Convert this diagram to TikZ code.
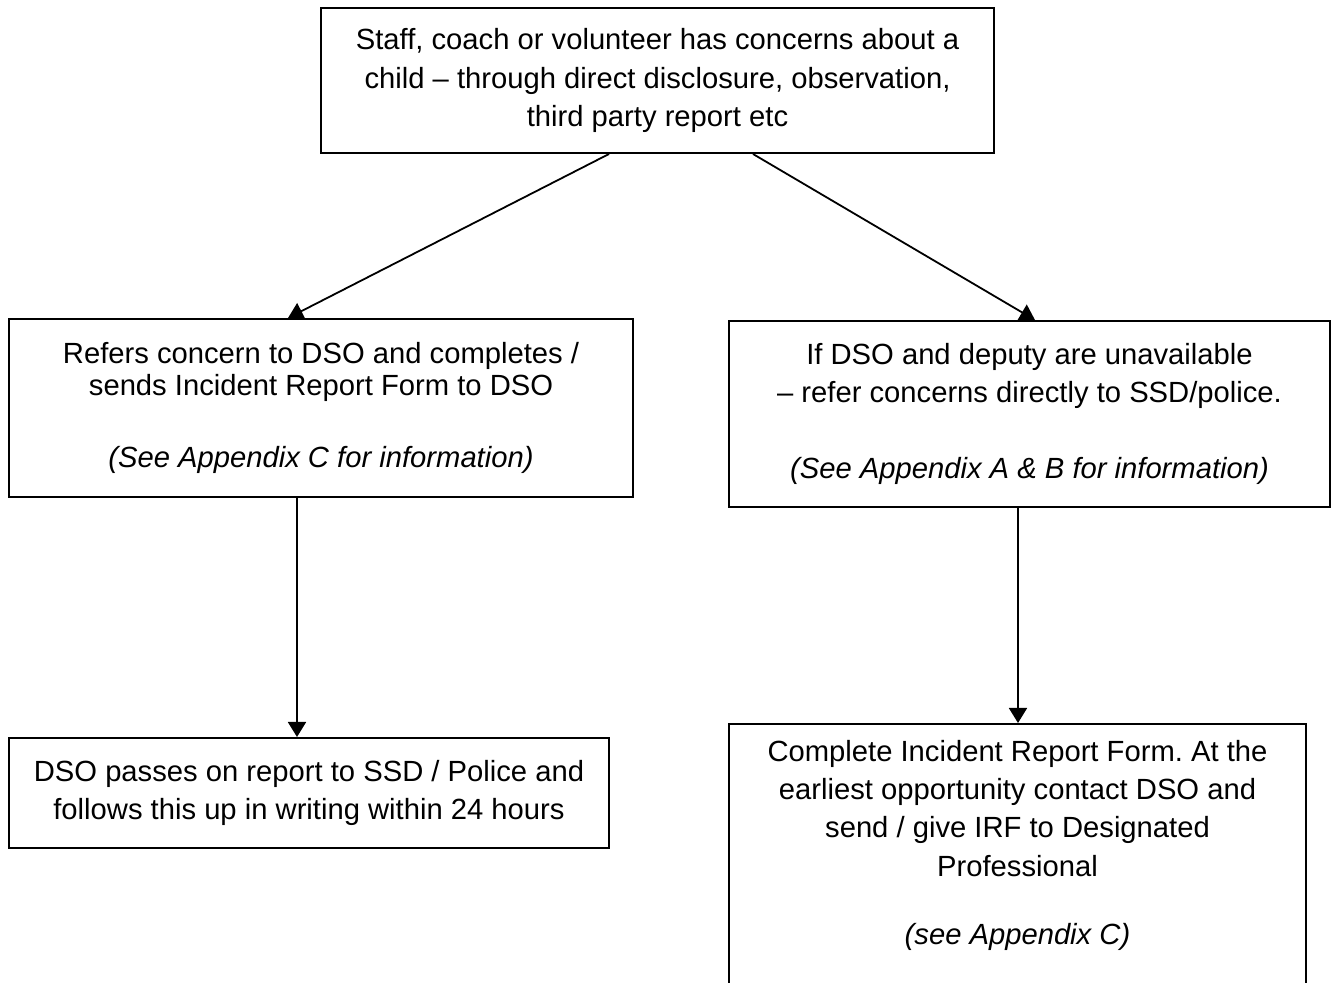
\documentclass[tikz,border=0pt]{standalone}
\usepackage{fontspec}
\setmainfont{Liberation Sans}
\usetikzlibrary{arrows.meta}
\begin{document}
\frenchspacing
\begin{tikzpicture}[x=0.5pt,y=-0.5pt,
  box/.style={draw, line width=1pt, align=center, inner sep=0pt,
    font=\fontsize{14.6}{19.2}\selectfont},
  arr/.style={-{Triangle[length=7.5pt,width=9pt]}, line width=0.9pt}]
\useasboundingbox (0,0) rectangle (1335,983);
\node[box, minimum width=336.5pt, minimum height=72.5pt] (top) at (657.5,80.5)
  {Staff, coach or volunteer has concerns about a\\ child – through direct disclosure, observation,\\ third party report etc};
\node[box, minimum width=312pt, minimum height=89pt] (l1) at (321,408)
  {Refers concern to DSO and completes /\\[-3pt] sends Incident Report Form to DSO\\[17pt] \textit{(See Appendix C for information)}};
\node[box, minimum width=300.5pt, minimum height=93pt] (r1) at (1029.5,414)
  {If DSO and deputy are unavailable\\ – refer concerns directly to SSD/police.\\[19pt] \textit{(See Appendix A \& B for information)}};
\node[box, minimum width=300pt, minimum height=55pt] (l2) at (309,793)
  {DSO passes on report to SSD / Police and\\ follows this up in writing within 24 hours};
\node[box, minimum width=288.5pt, anchor=north, inner ysep=8pt, text depth=150pt] (r2) at (1017.5,723)
  {Complete Incident Report Form. At the\\ earliest opportunity contact DSO and\\ send / give IRF to Designated\\ Professional\\[15pt] \textit{(see Appendix C)}};
\draw[arr] ([xshift=-24.25pt]top.south) -- ([xshift=-16.5pt]l1.north);
\draw[arr] ([xshift=47.75pt]top.south) -- ([xshift=2.75pt]r1.north);
\draw[arr] ([xshift=-12pt]l1.south) -- ([xshift=-12pt]l1.south |- l2.north);
\draw[arr] ([xshift=-5.75pt]r1.south) -- ([xshift=-5.75pt]r1.south |- r2.north);
\end{tikzpicture}
\end{document}
